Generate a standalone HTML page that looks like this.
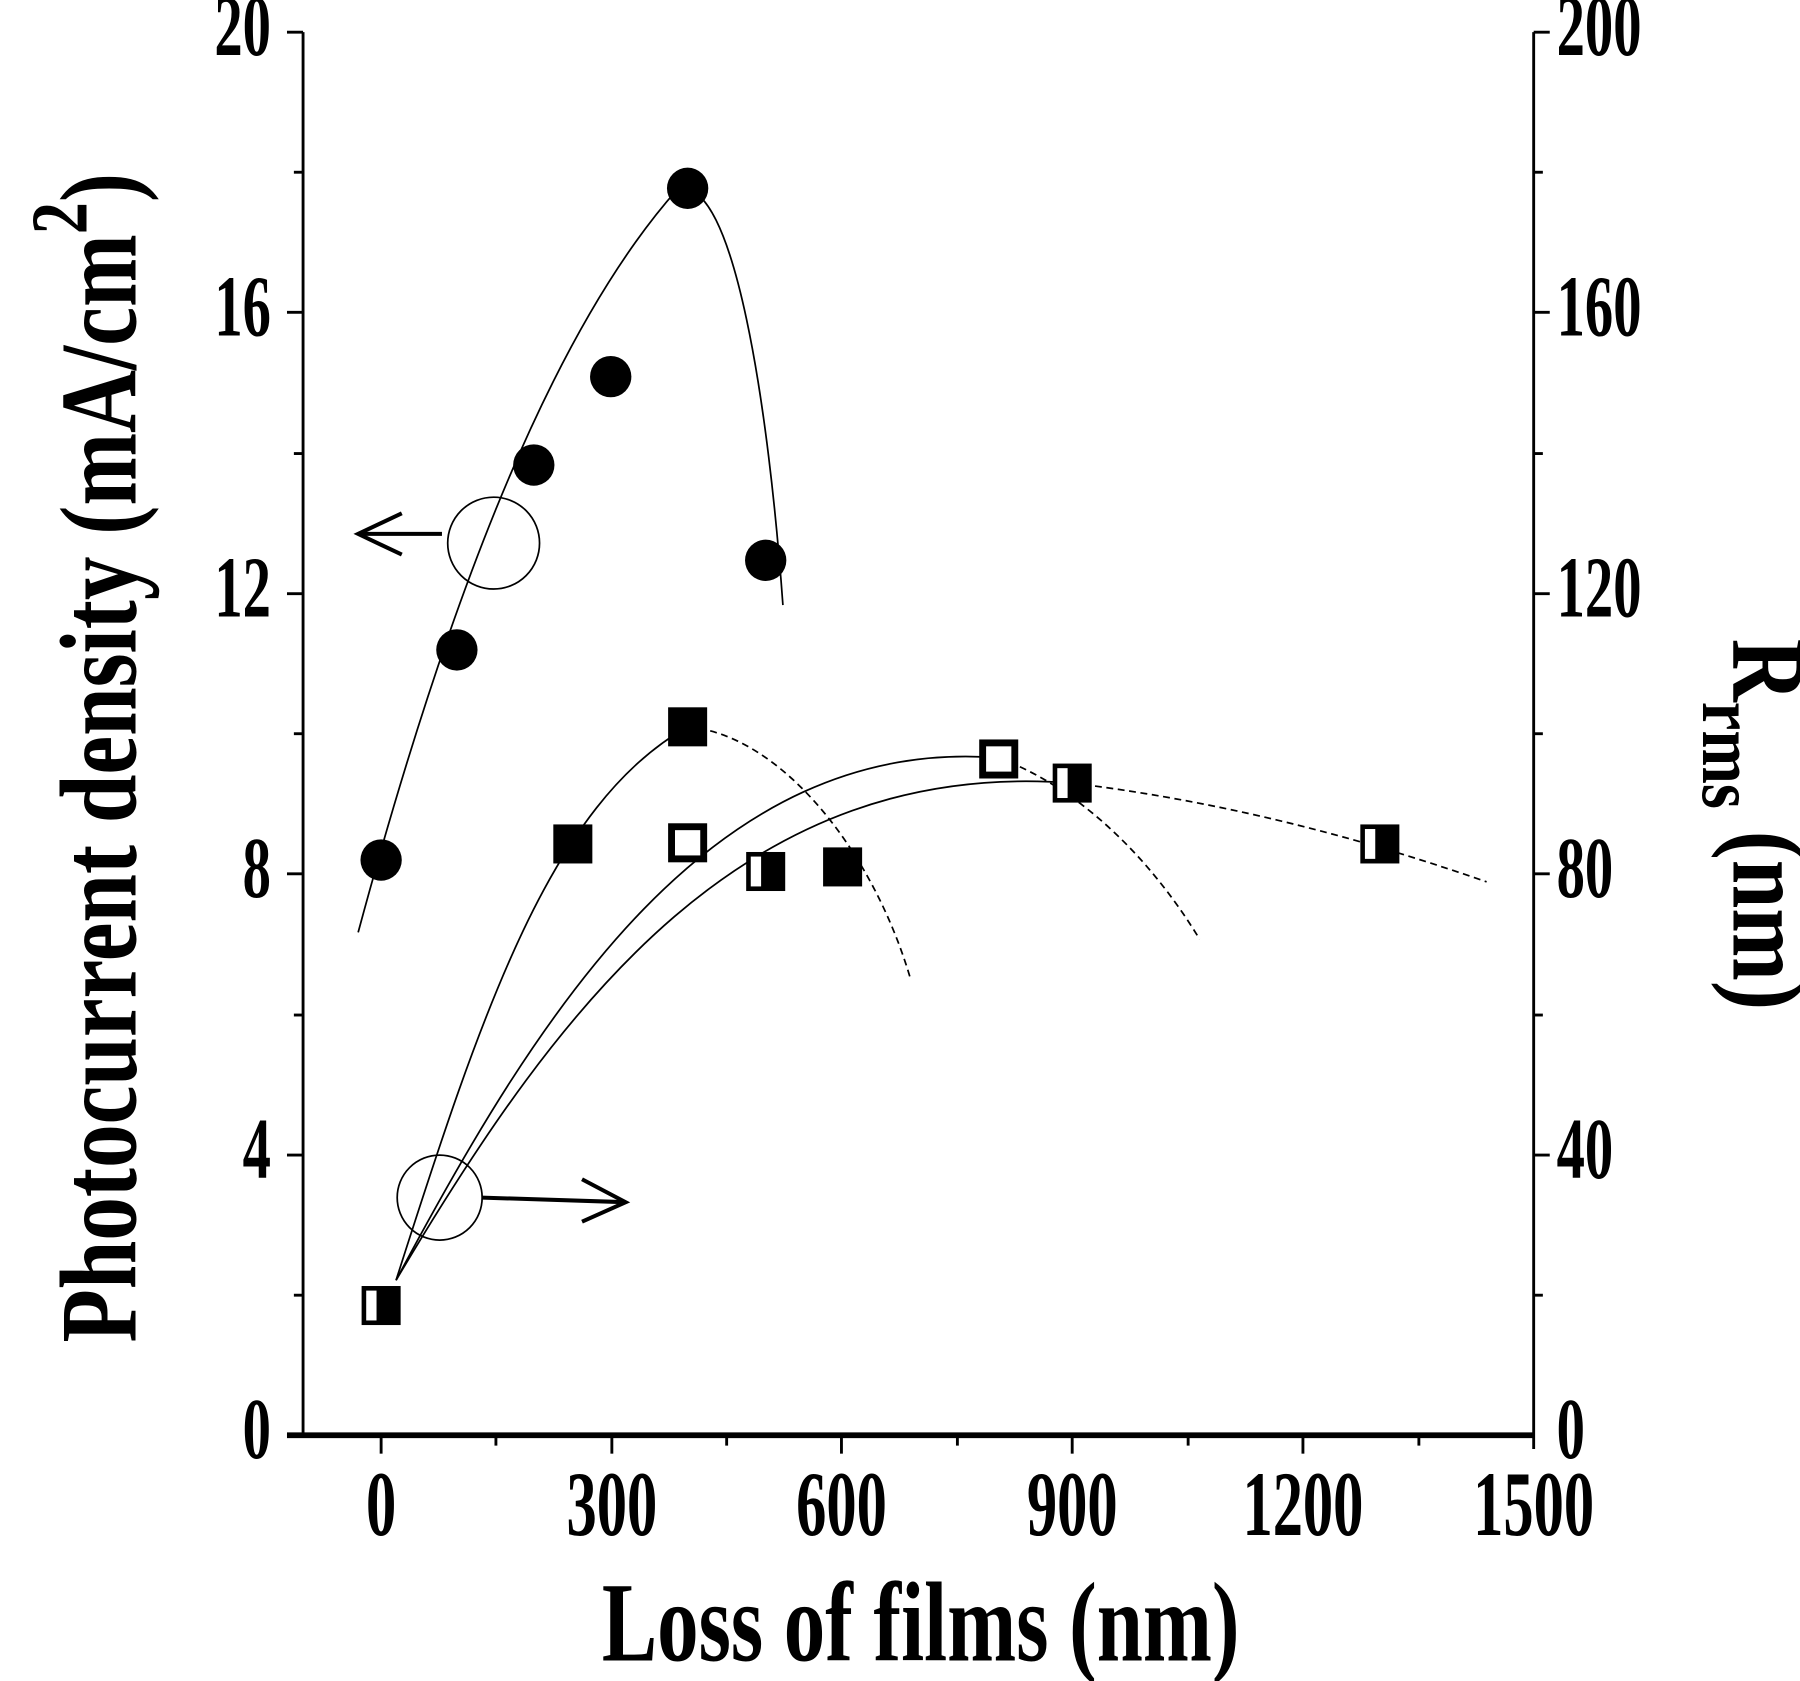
<!DOCTYPE html>
<html><head><style>html,body{margin:0;padding:0;background:#fff}svg{display:block}</style></head>
<body>
<svg width="1800" height="1681" viewBox="0 0 1568 1464" preserveAspectRatio="none" xmlns="http://www.w3.org/2000/svg" font-family="Liberation Serif, serif" font-weight="bold">
<rect x="0" y="0" width="1568" height="1464" fill="#fff"/>
<line x1="264" y1="28" x2="264" y2="1250" stroke="#000" stroke-width="2.5"/>
<line x1="1336" y1="28" x2="1336" y2="1262" stroke="#000" stroke-width="2.5"/>
<line x1="250" y1="1250" x2="1336" y2="1250" stroke="#000" stroke-width="5"/>
<g stroke="#000" stroke-width="2.5">
<line x1="250" y1="1250" x2="264" y2="1250"/><line x1="250" y1="1006" x2="264" y2="1006"/><line x1="250" y1="761" x2="264" y2="761"/><line x1="250" y1="517" x2="264" y2="517"/><line x1="250" y1="272" x2="264" y2="272"/><line x1="250" y1="28" x2="264" y2="28"/>
<line x1="256" y1="1128" x2="264" y2="1128"/><line x1="256" y1="884" x2="264" y2="884"/><line x1="256" y1="639" x2="264" y2="639"/><line x1="256" y1="395" x2="264" y2="395"/><line x1="256" y1="150" x2="264" y2="150"/>
<line x1="1336" y1="1006" x2="1350" y2="1006"/><line x1="1336" y1="761" x2="1350" y2="761"/><line x1="1336" y1="517" x2="1350" y2="517"/><line x1="1336" y1="272" x2="1350" y2="272"/><line x1="1336" y1="28" x2="1350" y2="28"/>
<line x1="1336" y1="1128" x2="1344" y2="1128"/><line x1="1336" y1="884" x2="1344" y2="884"/><line x1="1336" y1="639" x2="1344" y2="639"/><line x1="1336" y1="395" x2="1344" y2="395"/><line x1="1336" y1="150" x2="1344" y2="150"/>
<line x1="332" y1="1250" x2="332" y2="1266"/><line x1="533" y1="1250" x2="533" y2="1266"/><line x1="733" y1="1250" x2="733" y2="1266"/><line x1="934" y1="1250" x2="934" y2="1266"/><line x1="1135" y1="1250" x2="1135" y2="1266"/>
<line x1="432" y1="1250" x2="432" y2="1259"/><line x1="633" y1="1250" x2="633" y2="1259"/><line x1="834" y1="1250" x2="834" y2="1259"/><line x1="1035" y1="1250" x2="1035" y2="1259"/><line x1="1236" y1="1250" x2="1236" y2="1259"/>
</g>
<g font-size="58" text-anchor="end">
<text transform="translate(236,1270) scale(0.85,1.3)">0</text>
<text transform="translate(236,1026) scale(0.85,1.3)">4</text>
<text transform="translate(236,781) scale(0.85,1.3)">8</text>
<text transform="translate(236,537) scale(0.85,1.3)">12</text>
<text transform="translate(236,292) scale(0.85,1.3)">16</text>
<text transform="translate(236,48) scale(0.85,1.3)">20</text>
</g>
<g font-size="58" text-anchor="start">
<text transform="translate(1356,1270) scale(0.85,1.3)">0</text>
<text transform="translate(1356,1026) scale(0.85,1.3)">40</text>
<text transform="translate(1356,781) scale(0.85,1.3)">80</text>
<text transform="translate(1356,537) scale(0.85,1.3)">120</text>
<text transform="translate(1356,292) scale(0.85,1.3)">160</text>
<text transform="translate(1356,48) scale(0.85,1.3)">200</text>
</g>
<g font-size="62" text-anchor="middle">
<text transform="translate(332,1337) scale(0.85,1.3)">0</text>
<text transform="translate(533,1337) scale(0.85,1.3)">300</text>
<text transform="translate(733,1337) scale(0.85,1.3)">600</text>
<text transform="translate(934,1337) scale(0.85,1.3)">900</text>
<text transform="translate(1135,1337) scale(0.85,1.3)">1200</text>
<text transform="translate(1336,1337) scale(0.85,1.3)">1500</text>
</g>
<text transform="translate(802,1446) scale(0.95,1.3)" font-size="76" text-anchor="middle">Loss of films (nm)</text>
<text transform="translate(118,660) rotate(-90) scale(1,1.25)" font-size="76" text-anchor="middle">Photocurrent density (mA/cm<tspan dy="-34" font-size="56">2</tspan><tspan dy="34">)</tspan></text>
<text transform="translate(1510,718) rotate(90) scale(1,1.2)" font-size="76" text-anchor="middle">R<tspan dy="22" font-size="56">rms</tspan><tspan dy="-22"> (nm)</tspan></text>
<g fill="none" stroke="#000" stroke-width="1.5">
<path d="M312,812 C380,560 470,300 590,165 C640,150 670,360 682,527"/>
<path d="M345,1115 C420,880 480,700 599,633"/>
<path d="M599,633 C680,640 760,740 793,852" stroke-dasharray="6,4"/>
<path d="M345,1115 C470,880 620,640 870,660"/>
<path d="M870,660 C950,690 1010,760 1045,818" stroke-dasharray="6,4"/>
<path d="M345,1115 C490,870 650,660 934,682"/>
<path d="M934,682 C1080,700 1200,735 1295,768" stroke-dasharray="6,4"/>
<circle cx="430" cy="473" r="40"/>
<circle cx="383" cy="1043" r="37"/>
</g>
<g stroke="#000" stroke-width="3.5" fill="none">
<line x1="385" y1="465" x2="312" y2="465"/><path d="M350,447 L312,465 L350,483"/>
<line x1="420" y1="1043" x2="545" y2="1047"/><path d="M507,1027 L545,1047 L507,1064"/>
</g>
<g fill="#000">
<circle cx="332" cy="749" r="18"/><circle cx="398" cy="566" r="18"/><circle cx="465" cy="405" r="18"/><circle cx="532" cy="328" r="18"/><circle cx="599" cy="164" r="18"/><circle cx="667" cy="488" r="18"/>
<rect x="482" y="718" width="34" height="34"/><rect x="582" y="616" width="34" height="34"/><rect x="717" y="738" width="34" height="34"/>
</g>
<g fill="#fff" stroke="#000" stroke-width="6">
<rect x="585" y="720" width="28" height="28"/><rect x="856" y="647" width="28" height="28"/>
</g>
<g>
<rect x="315" y="1120" width="34" height="34" fill="#000"/><rect x="319" y="1124" width="9" height="26" fill="#fff"/>
<rect x="650" y="742" width="34" height="34" fill="#000"/><rect x="654" y="746" width="9" height="26" fill="#fff"/>
<rect x="917" y="665" width="34" height="34" fill="#000"/><rect x="921" y="669" width="9" height="26" fill="#fff"/>
<rect x="1185" y="718" width="34" height="34" fill="#000"/><rect x="1189" y="722" width="9" height="26" fill="#fff"/>
</g>
</svg>
</body></html>
